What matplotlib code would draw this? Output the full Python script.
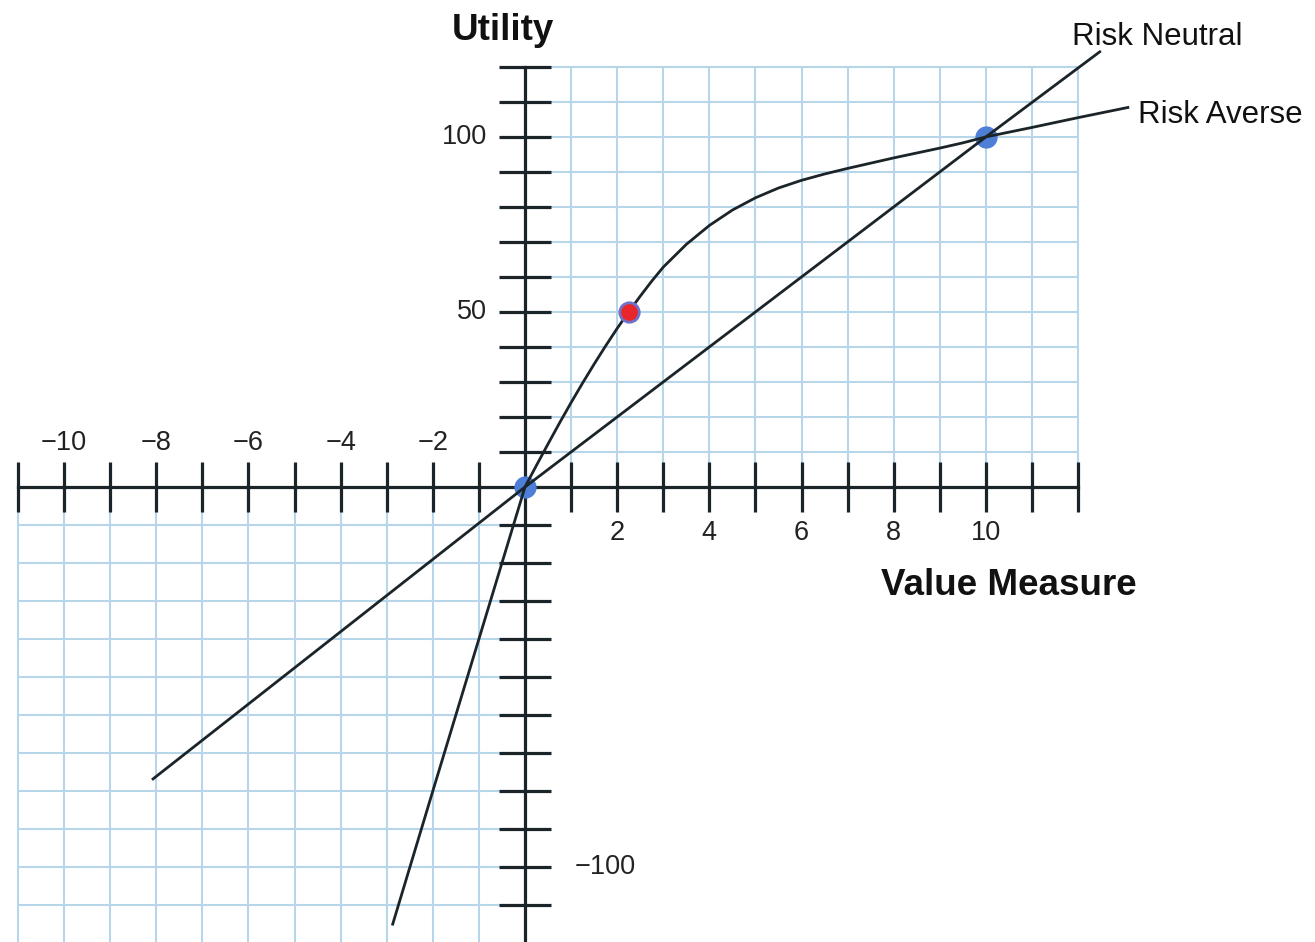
import numpy as np
import matplotlib
matplotlib.use("Agg")
import matplotlib.pyplot as plt

plt.rcParams['font.family'] = ['Liberation Sans', 'DejaVu Sans']

# values
neutral_x = [-8.07, 0, 10, 12.47]
neutral_y = [-76.8, 0, 100, 124.3]

averse_x = [-2.87, -2.0, -1.0, 0, 0.25, 0.5, 0.75, 1, 1.25, 1.5, 1.75, 2, 2.25, 2.5, 2.75, 3,
            3.5, 4, 4.5, 5, 5.5, 6, 6.5, 7, 7.5, 8, 8.5, 9, 9.5, 10, 11, 12, 13.08]
averse_y = [-115, -80, -40, 0, 6.2, 12.3, 18.3, 24.1, 29.7, 35.1, 40.3, 45.3, 50, 54.5, 58.8, 62.8,
            69.3, 74.7, 79.1, 82.6, 85.4, 87.6, 89.4, 91, 92.5, 94, 95.4, 96.8, 98.3, 100, 102.7, 105.5, 108.4]

blue_x = [0, 10]
blue_y = [0, 100]
red_x = [2.25]
red_y = [50]

xlabels_neg = [-10, -8, -6, -4, -2]
xlabels_pos = [2, 4, 6, 8, 10]
ylabels_pos = [100, 50]
ylabels_neg = [-100]

# the lower half of the drawing is stretched a bit more than the upper half
K = 3.8 / 3.5


def fwd(y):
    y = np.asarray(y, dtype=float)
    return np.where(y < 0, y * K, y)


def inv(y):
    y = np.asarray(y, dtype=float)
    return np.where(y < 0, y / K, y)


fig = plt.figure(figsize=(13.15, 9.42), dpi=100)
ax = fig.add_axes([0, 0, 1, 1])
ax.set_yscale('function', functions=(fwd, inv))
ax.set_xlim(-11.39, 17.14)
ax.set_ylim(-119.7, 139.1)
ax.axis('off')

grid_col = '#b7d6ea'
ink = '#1b2428'

# graph paper in quadrants I and III
ax.vlines(range(1, 13), 0, 120, color=grid_col, lw=1.5, zorder=1)
ax.hlines(range(10, 121, 10), 0, 12, color=grid_col, lw=1.5, zorder=1)
ax.vlines(range(-11, 0), -120, 0, color=grid_col, lw=1.5, zorder=1)
ax.hlines(range(-120, 0, 10), -11, 0, color=grid_col, lw=1.5, zorder=1)

# axes with tick marks
ax.plot([-11, 12], [0, 0], color=ink, lw=2.3, zorder=2)
ax.plot([0, 0], [-120, 120], color=ink, lw=2.3, zorder=2)
ax.vlines([i for i in range(-11, 13) if i != 0], -6.6, 7.1, color=ink, lw=2.3, zorder=2)
ax.hlines([j for j in range(-120, 121, 10) if j != 0], -0.57, 0.57, color=ink, lw=2.3, zorder=2)

# tick labels
for v in xlabels_neg:
    ax.text(v, 12.6, '\u2212%d' % abs(v), ha='center', va='center', fontsize=19.5, color='#222')
for v in xlabels_pos:
    ax.text(v, -12.1, str(v), ha='center', va='center', fontsize=19.5, color='#222')
for v in ylabels_pos:
    ax.text(-0.82, v, str(v), ha='right', va='center', fontsize=19.5, color='#222')
for v in ylabels_neg:
    ax.text(1.08, v, '\u2212%d' % abs(v), ha='left', va='center', fontsize=19.5, color='#222')

# axis titles
ax.text(-0.48, 127.7, 'Utility', ha='center', va='baseline', fontsize=26.5, fontweight='bold', color='#111')
ax.text(10.5, -28.4, 'Value Measure', ha='center', va='baseline', fontsize=26.5, fontweight='bold', color='#111')

# points and curves
ax.plot(blue_x, blue_y, 'o', ms=15, color='#4d7fd6', zorder=3)
ax.plot(neutral_x, neutral_y, color=ink, lw=2.0, zorder=4)
ax.plot(averse_x, averse_y, color=ink, lw=2.0, zorder=4)
ax.plot(red_x, red_y, 'o', ms=14, mfc='#e8262b', mec='#6f72c8', mew=2, zorder=5)

ax.text(11.87, 126.3, 'Risk Neutral', ha='left', va='baseline', fontsize=22.5, color='#111')
ax.text(13.3, 104.0, 'Risk Averse', ha='left', va='baseline', fontsize=22.5, color='#111')

fig.savefig('out.png', dpi=100, facecolor='white')
